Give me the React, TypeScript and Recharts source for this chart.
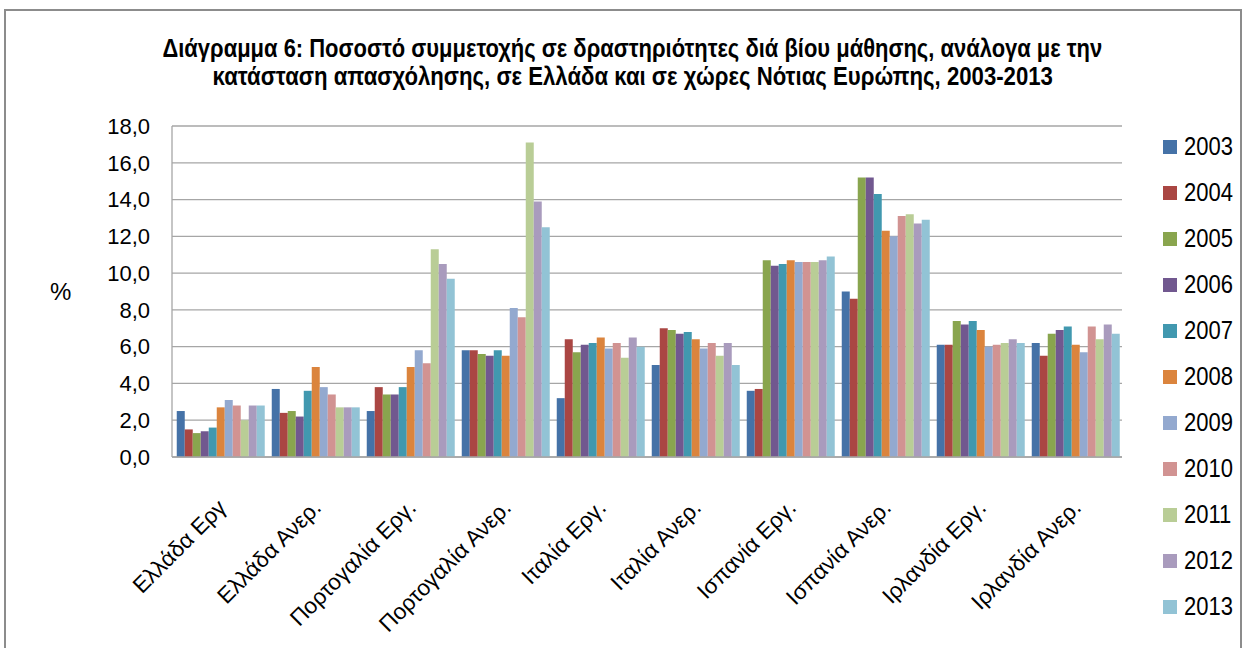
import React, { useLayoutEffect, useRef, useState } from "react";
import { BarChart, Bar, XAxis, YAxis, CartesianGrid } from "recharts";

const categories = [
  "Ελλάδα Εργ",
  "Ελλάδα Ανερ.",
  "Πορτογαλία Εργ.",
  "Πορτογαλία Ανερ.",
  "Ιταλία Εργ.",
  "Ιταλία Ανερ.",
  "Ισπανία Εργ.",
  "Ισπανία Ανερ.",
  "Ιρλανδία Εργ.",
  "Ιρλανδία Ανερ.",
];

const years = ["2003", "2004", "2005", "2006", "2007", "2008", "2009", "2010", "2011", "2012", "2013"];

const v2003 = [2.5, 3.7, 2.5, 5.8, 3.2, 5.0, 3.6, 9.0, 6.1, 6.2];
const v2004 = [1.5, 2.4, 3.8, 5.8, 6.4, 7.0, 3.7, 8.6, 6.1, 5.5];
const v2005 = [1.3, 2.5, 3.4, 5.6, 5.7, 6.9, 10.7, 15.2, 7.4, 6.7];
const v2006 = [1.4, 2.2, 3.4, 5.5, 6.1, 6.7, 10.4, 15.2, 7.2, 6.9];
const v2007 = [1.6, 3.6, 3.8, 5.8, 6.2, 6.8, 10.5, 14.3, 7.4, 7.1];
const v2008 = [2.7, 4.9, 4.9, 5.5, 6.5, 6.4, 10.7, 12.3, 6.9, 6.1];
const v2009 = [3.1, 3.8, 5.8, 8.1, 5.9, 5.9, 10.6, 12.0, 6.0, 5.7];
const v2010 = [2.8, 3.4, 5.1, 7.6, 6.2, 6.2, 10.6, 13.1, 6.1, 7.1];
const v2011 = [2.0, 2.7, 11.3, 17.1, 5.4, 5.5, 10.6, 13.2, 6.2, 6.4];
const v2012 = [2.8, 2.7, 10.5, 13.9, 6.5, 6.2, 10.7, 12.7, 6.4, 7.2];
const v2013 = [2.8, 2.7, 9.7, 12.5, 6.0, 5.0, 10.9, 12.9, 6.2, 6.7];

const series = [v2003, v2004, v2005, v2006, v2007, v2008, v2009, v2010, v2011, v2012, v2013];

const yTicks = [0, 2, 4, 6, 8, 10, 12, 14, 16, 18];

const titleLines = [
  "Διάγραμμα 6: Ποσοστό συμμετοχής σε δραστηριότητες διά βίου μάθησης, ανάλογα με την",
  "κατάσταση απασχόλησης, σε Ελλάδα και σε χώρες Νότιας Ευρώπης, 2003-2013",
];

const colors = [
  "#4572A7", "#AA4643", "#89A54E", "#71588F", "#4198AF", "#DB843D",
  "#93A9CF", "#D19392", "#B9CD96", "#A99BBD", "#92C3D5",
];

const data = categories.map((name, i) => {
  const row: Record<string, string | number> = { name };
  years.forEach((y, k) => {
    row[y] = series[k][i];
  });
  return row;
});

const sans = '"Liberation Sans", Arial, sans-serif';

const fmt = (v: number) => v.toFixed(1).replace(".", ",");

// squeeze a line of the title to a target width, like the condensed font in the original
const FitLine = ({ text, width, top }: { text: string; width: number; top: number }) => {
  const ref = useRef<HTMLSpanElement>(null);
  const [sx, setSx] = useState(1);
  useLayoutEffect(() => {
    if (ref.current) {
      const w = ref.current.offsetWidth;
      if (w > 0) setSx(width / w);
    }
  }, [text, width]);
  return (
    <div
      style={{
        position: "absolute",
        left: 0,
        top,
        width: 1265,
        textAlign: "center",
        whiteSpace: "nowrap",
      }}
    >
      <span
        ref={ref}
        style={{
          display: "inline-block",
          fontFamily: sans,
          fontWeight: "bold",
          fontSize: 26,
          lineHeight: "30px",
          color: "#000",
          transform: `scaleX(${sx})`,
          transformOrigin: "center",
        }}
      >
        {text}
      </span>
    </div>
  );
};

const XTick = (props: any) => {
  const { x, y, payload } = props;
  const ax = x + 8;
  const ay = y + 44;
  return (
    <text
      x={ax}
      y={ay}
      transform={`rotate(-45, ${ax}, ${ay})`}
      textAnchor="end"
      fontSize={22.5}
      fontFamily={sans}
      fill="#000"
    >
      {payload.value}
    </text>
  );
};

const App = () => {
  return (
    <div style={{ position: "absolute", left: 0, top: 0, width: 1248, height: 648, background: "#fff", overflow: "hidden" }}>
      <div
        style={{
          position: "absolute",
          left: 4,
          top: 9,
          width: 1238,
          height: 660,
          border: "2px solid #8c8c8c",
          boxSizing: "border-box",
        }}
      />
      <FitLine text={titleLines[0]} width={940} top={33} />
      <FitLine text={titleLines[1]} width={840} top={61} />
      <div
        style={{
          position: "absolute",
          left: 50,
          top: 278,
          fontFamily: sans,
          fontSize: 24,
          color: "#000",
        }}
      >
        %
      </div>
      <div style={{ position: "absolute", left: 1163, top: 124 }}>
        {years.map((y, k) => (
          <div key={y} style={{ height: 46, display: "flex", alignItems: "center" }}>
            <div style={{ width: 14, height: 14, background: colors[k], marginRight: 7 }} />
            <span
              style={{
                fontFamily: sans,
                fontSize: 22,
                color: "#000",
                display: "inline-block",
                transform: "scaleY(1.18)",
              }}
            >
              {y}
            </span>
          </div>
        ))}
      </div>
      <BarChart
        width={1248}
        height={648}
        data={data}
        margin={{ top: 126, right: 126, left: 100, bottom: 21 }}
        barCategoryGap="5%"
        barGap={0}
        style={{ position: "absolute", left: 0, top: 0 }}
      >
        <CartesianGrid vertical={false} stroke="#a6a6a6" strokeWidth={1.3} />
        <XAxis
          dataKey="name"
          interval={0}
          height={170}
          tickLine={false}
          axisLine={{ stroke: "#a6a6a6", strokeWidth: 1.3 }}
          tick={<XTick />}
        />
        <YAxis
          width={72}
          domain={[0, 18]}
          ticks={yTicks}
          interval={0}
          tickFormatter={fmt}
          tickLine={false}
          tickSize={0}
          tickMargin={22}
          axisLine={{ stroke: "#a6a6a6", strokeWidth: 1.3 }}
          tick={{ fontSize: 22, fill: "#000", fontFamily: sans }}
        />
        {years.map((y, k) => (
          <Bar key={y} dataKey={y} fill={colors[k]} isAnimationActive={false} />
        ))}
      </BarChart>
    </div>
  );
};

export default App;
